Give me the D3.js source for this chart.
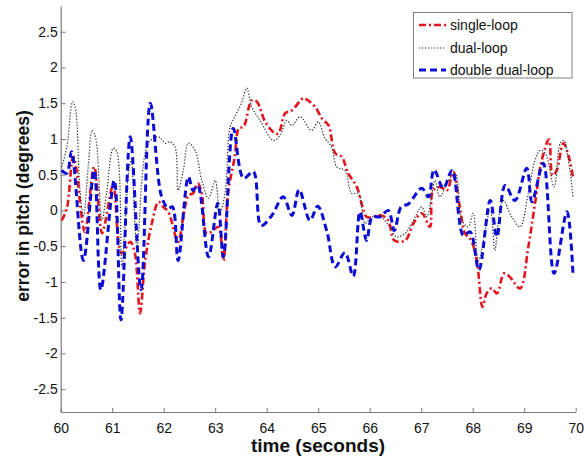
<!DOCTYPE html>
<html>
<head>
<meta charset="utf-8">
<script src="https://cdn.jsdelivr.net/npm/d3@7"></script>
<style>
  html, body { margin: 0; padding: 0; background: #fff; }
  svg { display: block; font-family: "Liberation Sans", Arial, sans-serif; }
</style>
</head>
<body>
<svg id="chart" width="584" height="457"></svg>
<script>
// ---- data ----
const singleT = [60.02,60.12,60.24,60.31,60.37,60.47,60.65,60.80,60.86,61.02,61.18,61.35,61.44,61.54,61.64,61.77,61.90,61.99,62.09,62.28,62.38,62.48,62.57,62.66,62.74,62.83,62.93,63.06,63.16,63.25,63.38,63.46,63.55,63.71,63.81,63.97,64.16,64.23,64.36,64.49,64.71,64.78,64.94,65.07,65.20,65.33,65.46,65.58,65.75,65.84,65.94,66.07,66.23,66.36,66.48,66.69,66.85,67.01,67.17,67.23,67.36,67.50,67.62,67.75,67.85,67.97,68.08,68.19,68.27,68.37,68.47,68.61,68.72,68.92,69.08,69.21,69.34,69.48,69.55,69.63,69.76,69.86,69.95];
const singleV = [-0.14,0.03,0.75,0.56,0.14,-0.30,0.61,-0.32,-0.18,0.35,-0.60,-0.44,-0.60,-1.44,-0.70,-0.18,0.12,0.05,-0.02,-0.44,-0.09,0.21,0.24,0.38,0.24,-0.32,-0.30,-0.23,-0.70,0.24,0.75,1.15,1.17,1.54,1.52,1.24,1.08,1.08,1.36,1.40,1.57,1.55,1.45,1.29,1.19,0.80,0.75,0.52,0.33,0.10,-0.09,-0.09,-0.07,-0.14,-0.42,-0.42,-0.18,-0.04,-0.23,0.28,0.33,0.28,0.54,0.05,-0.32,-0.42,-0.70,-1.35,-1.16,-1.09,-1.16,-0.88,-0.93,-1.09,-0.51,0.10,0.70,0.99,0.49,0.56,0.94,0.77,0.45];

const dualT = [60.02,60.12,60.23,60.28,60.37,60.44,60.54,60.61,60.68,60.80,60.89,61.02,61.09,61.19,61.31,61.37,61.48,61.70,61.90,62.03,62.12,62.22,62.28,62.38,62.48,62.61,62.74,62.87,63.00,63.09,63.19,63.29,63.38,63.51,63.61,63.71,63.87,64.13,64.26,64.39,64.49,64.65,64.87,65.00,65.13,65.26,65.36,65.52,65.65,65.78,65.91,66.01,66.17,66.39,66.52,66.69,66.82,67.01,67.11,67.27,67.36,67.53,67.66,67.79,67.91,68.01,68.11,68.34,68.43,68.50,68.59,68.76,68.92,69.08,69.21,69.31,69.41,69.58,69.70,69.77,69.86,69.95];
const dualV = [0.61,0.89,1.52,1.45,0.33,-0.09,0.66,1.12,1.01,-0.14,0.24,0.87,0.82,-0.79,0.49,0.70,-0.49,0.94,1.03,0.94,0.96,0.89,0.28,0.56,0.94,0.84,0.42,0.17,0.42,-0.04,0.24,1.17,1.31,1.50,1.71,1.45,1.26,0.98,1.05,1.26,1.19,1.31,1.12,1.24,1.01,0.89,0.61,0.56,0.24,0.24,-0.18,-0.11,-0.07,-0.23,-0.37,-0.32,-0.18,0.05,-0.09,0.42,0.19,0.42,0.52,-0.14,-0.23,-0.04,-0.70,0.00,-0.56,-0.14,0.14,-0.09,-0.23,0.24,0.70,0.84,0.80,0.33,0.94,0.98,0.70,0.19];

const doubleT = [60.02,60.12,60.21,60.44,60.65,60.78,61.04,61.17,61.35,61.56,61.74,61.96,62.09,62.17,62.28,62.48,62.57,62.66,62.87,63.05,63.16,63.35,63.55,63.74,63.89,64.10,64.32,64.49,64.63,64.84,64.99,65.17,65.33,65.52,65.68,65.81,65.94,66.05,66.20,66.36,66.48,66.61,66.75,67.01,67.14,67.25,67.43,67.60,67.82,67.95,68.12,68.34,68.47,68.63,68.82,69.05,69.15,69.37,69.58,69.83,69.95];
const doubleV = [0.56,0.52,0.82,-0.70,0.56,-1.11,0.42,-1.53,1.03,-1.11,1.50,0.19,0.03,0.05,-0.70,0.47,0.28,0.35,-0.65,0.10,-0.65,1.15,0.45,0.54,-0.21,-0.07,0.19,-0.07,0.29,-0.14,0.06,-0.30,-0.79,-0.59,-0.92,-0.02,-0.42,-0.09,-0.09,0.00,-0.28,0.05,0.09,0.31,0.19,0.57,0.31,0.56,-0.35,-0.30,-0.83,0.14,-0.37,0.35,0.14,0.59,0.12,0.66,-0.88,-0.02,-0.93];

const seriesNames = ["single-loop", "dual-loop", "double dual-loop"];
const xTicks = [60,61,62,63,64,65,66,67,68,69,70];
const yTicks = [2.5,2,1.5,1,0.5,0,-0.5,-1,-1.5,-2,-2.5];
const yTickLabels = ["2.5","2","1.5","1","0.5","0","-0.5","-1","-1.5","-2","-2.5"];
const xTitle = "time (seconds)";
const yTitle = "error in pitch (degrees)";

// ---- styles ----
const styles = [
  { color: "#e3141c", width: 2.6, dash: "7,3,2,3" },
  { color: "#333333", width: 1.2, dash: "1.3,1.7" },
  { color: "#0b0bd6", width: 3, dash: "7,4" }
];

const svg = d3.select("#chart");
const x = d3.scaleLinear().domain([60, 70]).range([60.7, 575.7]);
const y = d3.scaleLinear().domain([-2.82, 2.86]).range([412, 6]);

// axes
const axisColor = "#7a7a7a";
const gx = svg.append("g").attr("transform", `translate(0,${y(-2.82)})`)
  .call(d3.axisBottom(x).tickValues(xTicks).tickFormat(d3.format("d")).tickSize(-4).tickSizeOuter(0).tickPadding(11));
const gy = svg.append("g").attr("transform", `translate(${x(60)},0)`)
  .call(d3.axisLeft(y).tickValues(yTicks).tickFormat((d, i) => yTickLabels[i]).tickSize(-5).tickSizeOuter(0).tickPadding(3));
[gx, gy].forEach(g => {
  g.select(".domain").attr("stroke", axisColor).attr("stroke-width", 1.2);
  g.selectAll(".tick line").attr("stroke", axisColor);
  g.selectAll(".tick text").attr("fill", "#111").style("font-size", "14px").style("font-family", "'Liberation Sans', Arial, sans-serif");
});

// lines
const line = d3.line().x(d => x(d[0])).y(d => y(d[1])).curve(d3.curveCatmullRom.alpha(0.5));
const data = [
  singleT.map((t, i) => [t, singleV[i]]),
  dualT.map((t, i) => [t, dualV[i]]),
  doubleT.map((t, i) => [t, doubleV[i]])
];
data.forEach((d, i) => {
  svg.append("path").datum(d)
    .attr("d", line)
    .attr("fill", "none")
    .attr("stroke", styles[i].color)
    .attr("stroke-width", styles[i].width)
    .attr("stroke-dasharray", styles[i].dash)
    .attr("stroke-linejoin", "round");
});

// titles
svg.append("text").attr("x", 318).attr("y", 452).attr("text-anchor", "middle")
  .style("font-size", "19px").style("font-weight", "bold").attr("fill", "#111").text(xTitle);
svg.append("text").attr("transform", "translate(29,206) rotate(-90)").attr("text-anchor", "middle")
  .style("font-size", "17.5px").style("font-weight", "bold").attr("fill", "#111").text(yTitle);

// legend
const lg = svg.append("g");
lg.append("rect").attr("x", 413.5).attr("y", 12.5).attr("width", 158.5).attr("height", 65.5)
  .attr("fill", "#fff").attr("stroke", "#808080").attr("stroke-width", 1);
const legendY = [25, 48, 70];
seriesNames.forEach((name, i) => {
  lg.append("line").attr("x1", 419).attr("x2", 446).attr("y1", legendY[i]).attr("y2", legendY[i])
    .attr("stroke", styles[i].color).attr("stroke-width", styles[i].width)
    .attr("stroke-dasharray", styles[i].dash);
  lg.append("text").attr("x", 450).attr("y", legendY[i] + 5).style("font-size", "14px")
    .attr("fill", "#111").text(name);
});
</script>
</body>
</html>
